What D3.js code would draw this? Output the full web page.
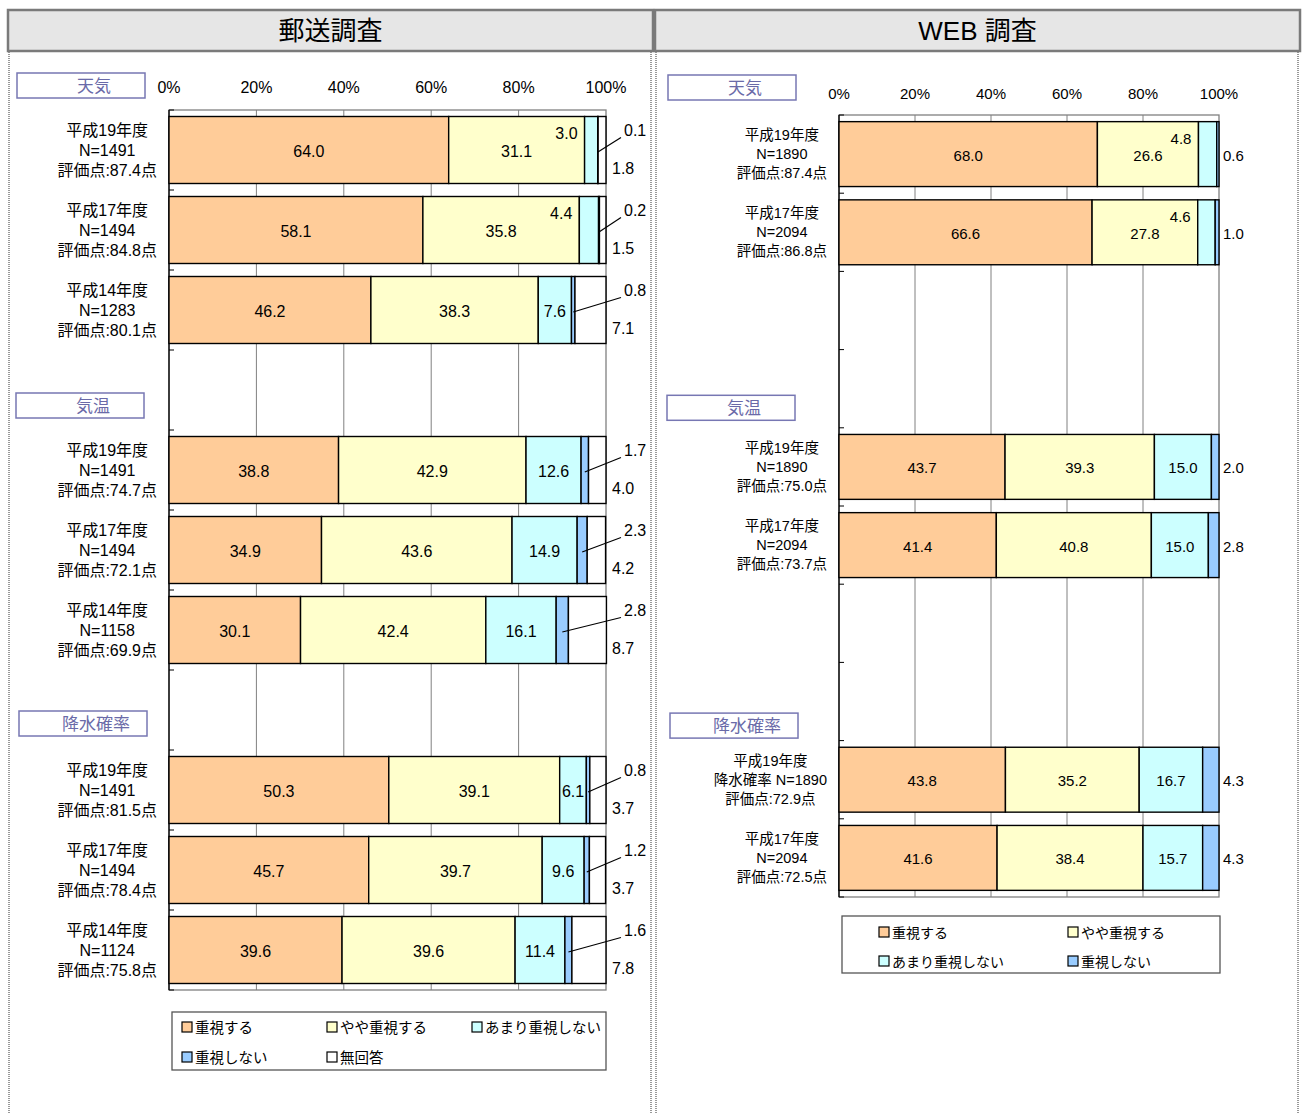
<!DOCTYPE html>
<html><head><meta charset="utf-8">
<script src="https://cdn.jsdelivr.net/npm/d3@7"></script>
<style>
body{margin:0;background:#fff;}
text{font-family:"Liberation Sans",Arial,"Noto Sans CJK JP",sans-serif;fill:#000;}
</style></head>
<body><svg id="c" width="1305" height="1113"></svg>
<script>
// ---------- DATA ----------
const seriesNames = ["重視する","やや重視する","あまり重視しない","重視しない","無回答"];
const seriesColors = ["#FFCC99","#FFFFCC","#CCFFFF","#99CCFF","#FFFFFF"];
const tickValues = [0,20,40,60,80,100];
const tickLabels = ["0%","20%","40%","60%","80%","100%"];
const groups = ["天気","気温","降水確率"];

// 郵送調査
const mailGroup = ["天気","天気","天気","気温","気温","気温","降水確率","降水確率","降水確率"];
const mailYear  = ["平成19年度","平成17年度","平成14年度","平成19年度","平成17年度","平成14年度","平成19年度","平成17年度","平成14年度"];
const mailN     = ["N=1491","N=1494","N=1283","N=1491","N=1494","N=1158","N=1491","N=1494","N=1124"];
const mailScore = ["評価点:87.4点","評価点:84.8点","評価点:80.1点","評価点:74.7点","評価点:72.1点","評価点:69.9点","評価点:81.5点","評価点:78.4点","評価点:75.8点"];
const mailJyushi = [64.0,58.1,46.2,38.8,34.9,30.1,50.3,45.7,39.6];
const mailYaya   = [31.1,35.8,38.3,42.9,43.6,42.4,39.1,39.7,39.6];
const mailAmari  = [3.0,4.4,7.6,12.6,14.9,16.1,6.1,9.6,11.4];
const mailNot    = [0.1,0.2,0.8,1.7,2.3,2.8,0.8,1.2,1.6];
const mailNone   = [1.8,1.5,7.1,4.0,4.2,8.7,3.7,3.7,7.8];
const mailSlots  = ["m0","m1","m2","gapA","m3","m4","m5","gapB","m6","m7","m8"];

// WEB調査
const webGroup = ["天気","天気","気温","気温","降水確率","降水確率"];
const webYear  = ["平成19年度","平成17年度","平成19年度","平成17年度","平成19年度","平成17年度"];
const webN     = ["N=1890","N=2094","N=1890","N=2094","降水確率 N=1890","N=2094"];
const webScore = ["評価点:87.4点","評価点:86.8点","評価点:75.0点","評価点:73.7点","評価点:72.9点","評価点:72.5点"];
const webJyushi = [68.0,66.6,43.7,41.4,43.8,41.6];
const webYaya   = [26.6,27.8,39.3,40.8,35.2,38.4];
const webAmari  = [4.8,4.6,15.0,15.0,16.7,15.7];
const webNot    = [0.6,1.0,2.0,2.8,4.3,4.3];
const webSlots  = ["w0","w1","gapA","gapB","w2","w3","gapC","gapD","w4","w5"];

// ---------- DRAW ----------
const svg = d3.select("#c");

function panelFrame(x0, x1, title){
  [x0+1, x1-2].forEach(x=>{
    svg.append("line").attr("x1",x).attr("x2",x).attr("y1",52).attr("y2",1113)
      .attr("stroke","#999").attr("stroke-width",2).attr("stroke-dasharray","1,1");
  });
  svg.append("rect").attr("x",x0).attr("y",10).attr("width",x1-x0).attr("height",41)
    .attr("fill","#e6e6e6").attr("stroke","#7a7a7a").attr("stroke-width",2.5);
  svg.append("text").attr("x",(x0+x1)/2).attr("y",31).attr("text-anchor","middle")
    .attr("dominant-baseline","central").style("font-size","26px").text(title);
}
panelFrame(8,653,"郵送調査");
panelFrame(655,1300,"WEB 調査");

function sectionBox(cx, cy, label){
  svg.append("rect").attr("x",cx-64).attr("y",cy-12.5).attr("width",128).attr("height",25)
    .attr("fill","#fff").attr("stroke","#7777b3").attr("stroke-width",1.5);
  svg.append("text").attr("x",cx+13).attr("y",cy+1).attr("text-anchor","middle")
    .attr("dominant-baseline","central").style("font-size","17px").style("fill","#6a6aa8").text(label);
}

function drawChart(cfg){
  const x = d3.scaleLinear().domain([0,100]).range([cfg.x0,cfg.x1]);
  const y = d3.scaleBand().domain(cfg.slots).range([cfg.y0,cfg.y1])
    .paddingInner(cfg.pad).paddingOuter(cfg.pad/2);
  const g = svg.append("g");
  g.selectAll(".grid").data(tickValues.slice(1,-1)).enter().append("line")
    .attr("x1",d=>x(d)).attr("x2",d=>x(d)).attr("y1",cfg.y0).attr("y2",cfg.y1)
    .attr("stroke","#808080").attr("stroke-width",1);
  g.append("rect").attr("x",cfg.x0).attr("y",cfg.y0).attr("width",cfg.x1-cfg.x0).attr("height",cfg.y1-cfg.y0)
    .attr("fill","none").attr("stroke","#808080").attr("stroke-width",1.3);
  g.append("line").attr("x1",cfg.x0).attr("x2",cfg.x0).attr("y1",cfg.y0).attr("y2",cfg.y1).attr("stroke","#000").attr("stroke-width",1.3);
  const bounds = cfg.slots.map((s,i)=>cfg.y0 + i*y.step()).concat([cfg.y1]);
  g.selectAll(".tk").data(bounds).enter().append("line")
    .attr("x1",cfg.x0).attr("x2",cfg.x0+5).attr("y1",d=>d).attr("y2",d=>d).attr("stroke","#000");
  g.selectAll(".tl").data(tickValues).enter().append("text")
    .attr("x",d=>x(d)).attr("y",cfg.tickY).attr("text-anchor","middle").attr("dominant-baseline","central")
    .style("font-size",cfg.fs+"px").text((d,i)=>tickLabels[i]);

  const rows = cfg.values[0].map((_,i)=>i);
  const rowSlots = cfg.slots.filter(s=>!s.startsWith("gap"));
  rows.forEach(i=>{
    const top = y(rowSlots[i]), bh = y.bandwidth(), cy = top+bh/2;
    let acc = 0;
    const segs = cfg.values.map((arr,k)=>{ const s={k, v:arr[i], a:acc}; acc+=arr[i]; return s; });
    g.selectAll(null).data(segs).enter().append("rect")
      .attr("x",d=>x(d.a)).attr("y",top).attr("width",d=>x(d.a+d.v)-x(d.a)).attr("height",bh)
      .attr("fill",d=>seriesColors[d.k]).attr("stroke","#000").attr("stroke-width",1.4);
    segs.forEach(d=>{
      const xs = x(d.a), xe = x(d.a+d.v), xm=(xs+xe)/2;
      const lab = d.v.toFixed(1);
      let tx, ty, anchor="middle";
      if(d.k<2 || (d.k===2 && d.v>=5)){ tx=xm; ty=cy+1; }
      else if(d.k===2){ tx=xs-7; ty=top+17; anchor="end"; }
      else if(d.k===3 && cfg.leader){
        tx=cfg.x1+18; ty=top+14; anchor="start";
        g.append("line").attr("x1",xm).attr("y1",cy+2).attr("x2",tx-3).attr("y2",ty+7)
          .attr("stroke","#000").attr("stroke-width",1.2);
      }
      else if(d.k===3){ tx=cfg.x1+4; ty=cy+1; anchor="start"; }
      else { tx=cfg.x1+6; ty=cy+18; anchor="start"; }
      g.append("text").attr("x",tx).attr("y",ty).attr("text-anchor",anchor)
        .attr("dominant-baseline","central").style("font-size",cfg.fs+"px").text(lab);
    });
    const lines=[cfg.year[i],cfg.n[i],cfg.score[i]];
    const tmp = lines.map(t=>{const e=g.append("text").style("font-size",cfg.cfs+"px").text(t); const w=e.node().getComputedTextLength(); e.remove(); return w;});
    const maxW = d3.max(tmp);
    const lx = cfg.x0 - 12 - maxW/2;
    lines.forEach((t,j)=>{
      g.append("text").attr("x",lx).attr("y",cy+(j-1)*cfg.lh).attr("text-anchor","middle")
        .attr("dominant-baseline","central").style("font-size",cfg.cfs+"px").text(t);
    });
  });
  groups.forEach((gname,gi)=>{
    const first = cfg.group.indexOf(gname);
    const slotTop = y(rowSlots[first]) - y.step()*cfg.pad/2;
    sectionBox(cfg.boxX[gi], slotTop + cfg.boxOff[gi], gname);
  });
  const L = cfg.legend;
  g.append("rect").attr("x",L.x).attr("y",L.y).attr("width",L.w).attr("height",L.h)
    .attr("fill","#fff").attr("stroke","#555").attr("stroke-width",1.3);
  L.items.forEach((k,j)=>{
    const px = L.cols[j%L.cols.length], py = L.rows[Math.floor(j/L.cols.length)];
    g.append("rect").attr("x",px).attr("y",py-5).attr("width",10).attr("height",10)
      .attr("fill",seriesColors[k]).attr("stroke","#000").attr("stroke-width",1.2);
    g.append("text").attr("x",px+13).attr("y",py+1).attr("dominant-baseline","central")
      .style("font-size",L.fs+"px").text(seriesNames[k]);
  });
}

drawChart({
  x0:169, x1:606, y0:110, y1:990, pad:0.1625, slots:mailSlots, tickY:87, fs:16, cfs:16, lh:20,
  values:[mailJyushi,mailYaya,mailAmari,mailNot,mailNone], leader:true,
  year:mailYear, n:mailN, score:mailScore, group:mailGroup,
  boxX:[81,80,83], boxOff:[-24.5,-24.5,-26.5],
  legend:{x:172,y:1012,w:434,h:58,cols:[182,327,472],rows:[1027,1057],items:[0,1,2,3,4],fs:14.5}
});
drawChart({
  x0:839, x1:1219, y0:115, y1:897, pad:0.17, slots:webSlots, tickY:93, fs:15, cfs:14.5, lh:19,
  values:[webJyushi,webYaya,webAmari,webNot], leader:false,
  year:webYear, n:webN, score:webScore, group:webGroup,
  boxX:[732,731,734], boxOff:[-27.5,-20,-15],
  legend:{x:842,y:916,w:378,h:57,cols:[879,1068],rows:[932,961],items:[0,1,2,3],fs:14}
});
</script></body></html>
